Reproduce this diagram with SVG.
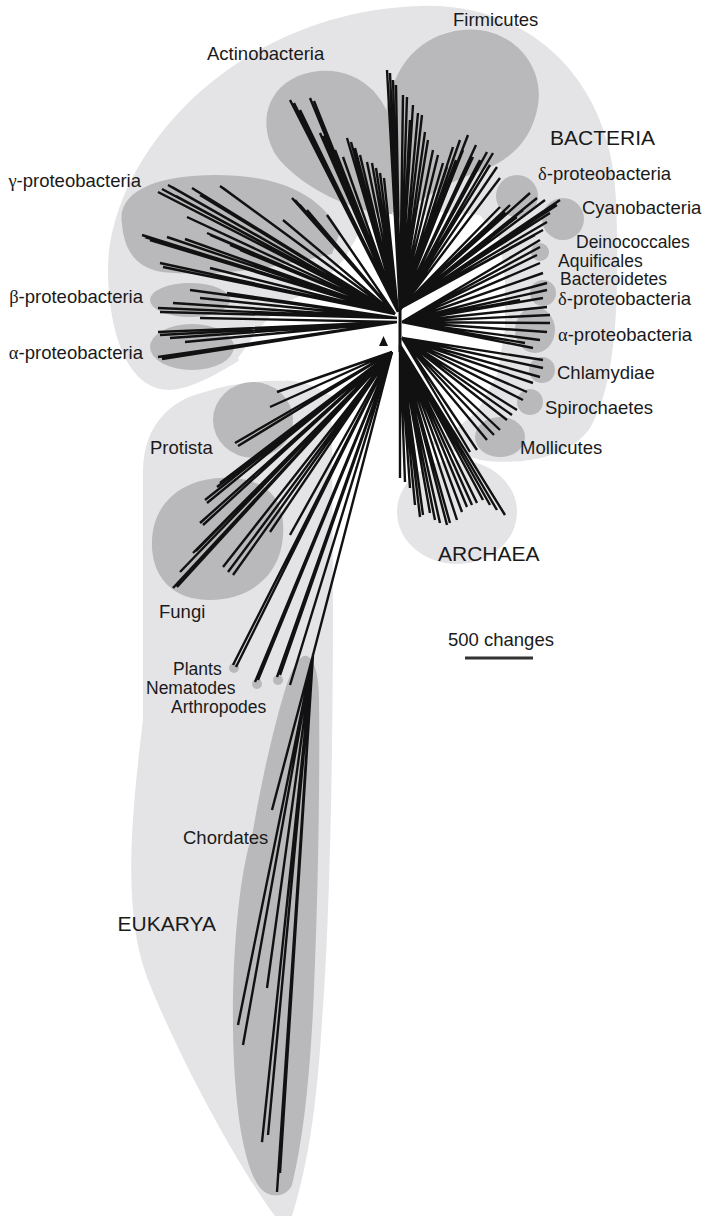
<svg xmlns="http://www.w3.org/2000/svg" width="705" height="1216" viewBox="0 0 705 1216">
<style>
.light{fill:#e4e4e6}
.dark{fill:#b9b9bb}
.br{fill:none;stroke:#111;stroke-width:2.4}
.lbl{font-family:"Liberation Sans",Arial,sans-serif;font-size:18.5px;fill:#1a1a1a}
.sm{font-size:17.5px}
.big{font-family:"Liberation Sans",Arial,sans-serif;font-size:21px;fill:#1a1a1a}
.gr{font-family:"Liberation Serif","Times New Roman",serif}
</style>
<rect width="705" height="1216" fill="#fff"/>
<g id="regions">
<path class="light" d="M108,275 C105,160 230,12 420,6 C530,2 612,80 616,200 C620,300 616,385 590,428 C570,458 520,466 480,460 L420,440 L330,400 L240,360 C220,372 195,388 170,390 C130,390 110,340 108,275 Z"/>
<path fill="#fff" d="M238,358 L258,330 L280,305 L318,288 L345,258 L362,228 L385,212 L405,220 L440,212 L480,215 L500,240 L505,280 L505,330 L497,375 L478,410 L455,430 L425,445 L398,448 L360,420 L330,395 L300,382 L270,378 L245,372 Z"/>
<ellipse class="light" cx="457" cy="512" rx="60" ry="52"/>
<path class="light" d="M143,470 C144,425 170,400 205,392 C240,380 295,376 318,388 C330,396 331,410 332,430 L333,600 C333,800 328,950 322,1020 C318,1090 310,1160 292,1216 L275,1216 C240,1170 180,1060 148,980 C125,920 128,840 143,720 Z"/>
</g>
<g id="clades">
<path class="dark" d="M392,214 C352,214 292,182 274,152 C256,118 270,80 312,72 C356,64 392,96 393,140 Z"/>
<path class="dark" d="M386,205 C380,140 378,62 438,36 C498,12 546,58 538,105 C532,142 508,162 478,172 C448,182 418,200 398,218 Z"/>
<path class="dark" d="M122,224 C116,190 160,175 215,175 C272,175 318,190 340,232 L332,254 C282,266 222,278 162,272 C136,268 124,250 122,224 Z"/>
<ellipse class="dark" cx="190" cy="300" rx="40" ry="17"/>
<ellipse class="dark" cx="192" cy="347" rx="42" ry="23"/>
<circle class="dark" cx="517" cy="196" r="21"/>
<circle class="dark" cx="563" cy="219" r="21"/>
<circle class="dark" cx="540" cy="252" r="9"/>
<circle class="dark" cx="543" cy="293" r="13"/>
<ellipse class="dark" cx="535" cy="330" rx="20" ry="23"/>
<circle class="dark" cx="542" cy="370" r="13"/>
<circle class="dark" cx="530" cy="402" r="13"/>
<ellipse class="dark" cx="500" cy="437" rx="25" ry="20"/>
<ellipse class="dark" cx="253" cy="420" rx="40" ry="38"/>
<path class="dark" d="M152,548 C150,505 180,480 220,478 C262,476 286,495 283,535 C281,575 250,600 210,600 C175,600 154,580 152,548 Z"/>
<path class="dark" d="M307,656 C316,660 319,680 319,700 C320,780 318,900 314,990 C310,1080 303,1140 292,1185 C286,1198 268,1200 258,1185 C242,1160 234,1100 233,1030 C232,950 240,870 252,836 C260,790 270,740 285,690 C292,668 300,654 307,656 Z"/>
<circle class="dark" cx="234" cy="668" r="5"/>
<circle class="dark" cx="257" cy="684" r="5"/>
<circle class="dark" cx="278" cy="680" r="5"/>
</g>
<g id="connectors">
<path class="br" d="M290,100L398,312M294,103L398,312M300,110L398,312M310,98L398,312M314,101L398,312M320,133L398,312M323,136L398,312M327,140L398,312M335,150L398,312M343,157L398,312M347,138L398,312M351,142L398,312M355,148L398,312M360,155L398,312M367,162L398,312M372,163L398,312M376,168L398,312M380,173L398,312M384,178L398,312"/>
<path class="br" d="M387,70L400,310M390,73L400,310M393,80L400,310M396,85L400,310M403,95L400,310M407,97L400,310M410,120L400,310M413,105L400,310M418,113L400,310M422,115L400,310M425,132L400,310M428,140L400,310M433,150L400,310M438,155L400,310M443,163L400,310M447,167L400,310M453,147L400,310M456,160L400,310M460,140L400,310M463,150L400,310M468,135L400,310M473,157L400,310M476,145L400,310M480,160L400,310M487,152L400,310M490,165L400,310M493,153L400,310M497,167L400,310M500,178L400,310"/>
<path class="br" d="M500,207L401,308M505,212L401,308M510,205L401,308M517,217L401,308M523,210L401,308M530,193L401,308M537,198L401,308M545,200L401,308M560,200L401,308M557,205L401,308M550,213L401,308M547,222L401,308M543,230L401,308M535,235L401,308"/>
<path class="br" d="M540,240L402,322M540,247L402,322M537,255L402,322M540,263L402,322M543,273L402,322M547,283L402,322M547,290L402,322M543,298L402,322M547,307L402,322M550,315L402,322M550,323L402,322M547,332L402,322M540,340L402,322M533,348L402,322M525,343L402,322M520,300L402,322"/>
<path class="br" d="M543,360L402,338M543,368L402,338M540,377L402,338M533,383L402,338M527,392L402,338M523,400L402,338M517,410L402,338M512,415L402,338M507,420L402,338M500,430L402,338M494,435L402,338M487,440L402,338M477,450L402,338M470,452L402,338"/>
<path class="br" d="M400,478L400,345M405,482L400,345M410,488L400,345M415,505L400,345M420,517L400,345M423,515L400,345M430,513L400,345M435,520L400,345M440,523L400,345M447,525L400,345M450,523L400,345M457,520L400,345M462,512L400,345M467,507L400,345M472,505L400,345M477,503L400,345M483,500L400,345M490,505L400,345M497,510L400,345M505,515L400,345"/>
<path class="br" d="M158,192L395,314M162,189L395,314M168,185L395,314M172,187L395,314M176,196L395,314M192,188L395,314M195,190L395,314M200,195L395,314M220,186L395,314M223,188L395,314M142,235L395,314M145,237L395,314M150,240L395,314M167,237L395,314M185,239L395,314M207,233L395,314M210,235L395,314M230,245L395,314M160,263L395,314M163,267L395,314M210,268L395,314M292,198L395,314M295,200L395,314M300,205L395,314M307,210L395,314M283,220L395,314M327,215L395,314M187,217L395,314M240,250L395,314M260,230L395,314"/>
<path class="br" d="M158,308L397,318M160,312L397,318M173,303L397,318M200,298L397,318M227,293L397,318M190,290L397,318"/>
<path class="br" d="M158,332L397,322M160,335L397,322M170,338L397,322M185,342L397,322M158,357L397,322M162,359L397,322M200,318L397,322M215,330L397,322"/>
<path class="br" d="M400,298L400,352" style="stroke-width:3"/>
<path class="br" d="M277,392L392,352M270,407L392,352M235,443L392,352M238,446L392,352"/>
<path class="br" d="M220,483L392,352M217,487L392,352M205,500L392,352M207,503L392,352M200,523L392,352M203,525L392,352M193,553L392,352M196,551L392,352M180,572L392,352M173,588L392,352M177,587L392,352M223,567L392,352M228,572L392,352M233,575L392,352M270,532L392,352M290,535L392,352"/>
<path class="br" d="M233,665L392,352M236,667L392,352M255,682L392,352M258,680L392,352M277,677L392,352M280,675L392,352M290,685L392,352"/>
<path class="br" d="M392,352L313,655M313,655L272,810M313,655L238,1025M313,655L243,1045M313,655L267,988M313,655L262,1142M313,655L268,1135M313,655L277,1192M313,655L280,1173"/>
<polygon points="383.5,336 388,346 379,346" fill="#111"/>
<line x1="465" y1="658" x2="533" y2="658" stroke="#333" stroke-width="3"/>
</g>
<g id="labels">
<text class="lbl" x="453" y="26">Firmicutes</text>
<text class="lbl" x="207" y="60">Actinobacteria</text>
<text class="big" x="550" y="145">BACTERIA</text>
<text class="lbl" x="538" y="180"><tspan class="gr">δ</tspan>-proteobacteria</text>
<text class="lbl" x="582" y="214">Cyanobacteria</text>
<text class="lbl sm" x="576" y="248">Deinococcales</text>
<text class="lbl sm" x="558" y="266.5">Aquificales</text>
<text class="lbl sm" x="560" y="285">Bacteroidetes</text>
<text class="lbl" x="558" y="305"><tspan class="gr">δ</tspan>-proteobacteria</text>
<text class="lbl" x="558" y="341"><tspan class="gr">α</tspan>-proteobacteria</text>
<text class="lbl" x="557" y="379">Chlamydiae</text>
<text class="lbl" x="545" y="414">Spirochaetes</text>
<text class="lbl" x="520" y="454">Mollicutes</text>
<text class="lbl" x="141" y="187" text-anchor="end"><tspan class="gr">γ</tspan>-proteobacteria</text>
<text class="lbl" x="143" y="303" text-anchor="end"><tspan class="gr">β</tspan>-proteobacteria</text>
<text class="lbl" x="143" y="359" text-anchor="end"><tspan class="gr">α</tspan>-proteobacteria</text>
<text class="lbl" x="150" y="454">Protista</text>
<text class="lbl" x="159" y="618">Fungi</text>
<text class="big" x="438" y="561">ARCHAEA</text>
<text class="lbl" x="448" y="646">500 changes</text>
<text class="lbl sm" x="173" y="675">Plants</text>
<text class="lbl sm" x="146" y="694">Nematodes</text>
<text class="lbl sm" x="171" y="713">Arthropodes</text>
<text class="lbl" x="183" y="844">Chordates</text>
<text class="big" x="216" y="931" text-anchor="end">EUKARYA</text>
</g>
</svg>
